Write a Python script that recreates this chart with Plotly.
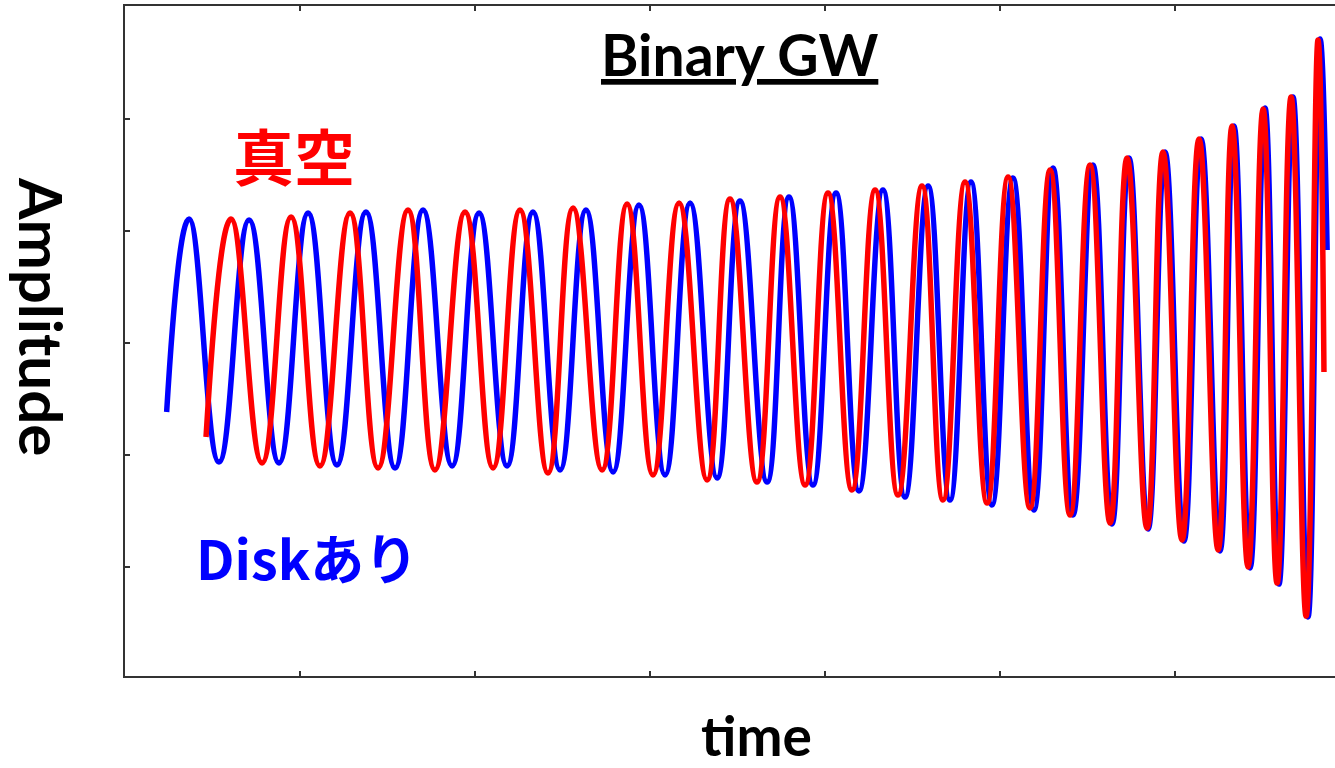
import plotly.graph_objects as go

# Extrema of the two waveforms (time in tick units, amplitude in tick units)
disk_t = [0.238, 0.366, 0.537, 0.709, 0.880, 1.046, 1.211, 1.377, 1.543, 1.703,
          1.869, 2.023, 2.183, 2.331, 2.486, 2.634, 2.789, 2.937, 3.086, 3.229,
          3.383, 3.514, 3.669, 3.794, 3.931, 4.063, 4.194, 4.331, 4.457, 4.589,
          4.714, 4.834, 4.954, 5.074, 5.194, 5.303, 5.417, 5.531, 5.640, 5.737,
          5.846, 5.943, 6.051, 6.149, 6.257, 6.337, 6.429, 6.514, 6.594, 6.674,
          6.760, 6.829, 6.869]
disk_amp = [-0.616, 1.107, -1.063, 1.098, -1.071, 1.161, -1.089, 1.170, -1.116, 1.188,
            -1.098, 1.161, -1.098, 1.170, -1.134, 1.188, -1.152, 1.232, -1.179, 1.250,
            -1.205, 1.268, -1.241, 1.304, -1.268, 1.339, -1.321, 1.366, -1.375, 1.402,
            -1.402, 1.438, -1.446, 1.473, -1.491, 1.563, -1.536, 1.589, -1.616, 1.652,
            -1.661, 1.705, -1.768, 1.821, -1.857, 1.938, -2.009, 2.098, -2.152, 2.196,
            -2.446, 2.714, 0.830]

vac_t = [0.463, 0.606, 0.783, 0.949, 1.114, 1.286, 1.446, 1.617, 1.771, 1.943,
         2.103, 2.257, 2.417, 2.560, 2.726, 2.869, 3.017, 3.166, 3.326, 3.457,
         3.611, 3.743, 3.886, 4.017, 4.154, 4.286, 4.417, 4.554, 4.674, 4.800,
         4.926, 5.046, 5.171, 5.286, 5.400, 5.514, 5.629, 5.726, 5.840, 5.931,
         6.040, 6.137, 6.246, 6.326, 6.417, 6.503, 6.583, 6.663, 6.749, 6.817,
         6.851]
vac_amp = [-0.839, 1.107, -1.071, 1.125, -1.098, 1.161, -1.116, 1.188, -1.134, 1.170,
           -1.116, 1.188, -1.161, 1.205, -1.134, 1.241, -1.179, 1.250, -1.223, 1.286,
           -1.241, 1.304, -1.268, 1.339, -1.313, 1.366, -1.357, 1.402, -1.402, 1.438,
           -1.429, 1.482, -1.473, 1.545, -1.536, 1.589, -1.607, 1.652, -1.652, 1.705,
           -1.759, 1.821, -1.848, 1.938, -2.000, 2.089, -2.143, 2.196, -2.438, 2.705,
           -0.259]

x_ticks = [1, 2, 3, 4, 5, 6]
y_ticks = [-2, -1, 0, 1, 2]

LATIN = "Lato, 'Open Sans', sans-serif"
CJK = "'Noto Sans CJK JP', sans-serif"

fig = go.Figure()
fig.add_trace(go.Scatter(
    x=disk_t, y=disk_amp, mode="lines", name="Diskあり",
    line=dict(color="#0000ff", width=5.5, shape="spline", smoothing=1.3),
))
fig.add_trace(go.Scatter(
    x=vac_t, y=vac_amp, mode="lines", name="真空",
    line=dict(color="#ff0000", width=5.5, shape="spline", smoothing=1.3),
))

axis_common = dict(
    showgrid=False, zeroline=False, showticklabels=False,
    showline=True, linecolor="#333333", linewidth=2,
    ticks="inside", ticklen=5, tickwidth=2, tickcolor="#333333",
)
fig.update_xaxes(range=[0, 6.914], tickvals=x_ticks, mirror="ticks", **axis_common)
fig.update_yaxes(range=[-2.973, 3.009], tickvals=y_ticks, mirror=False, **axis_common)


def label(text, x, y, family, size, color, **extra):
    font = dict(family=family, size=size, color=color)
    font.update(extra.pop("font_extra", {}))
    return dict(text=text, x=x, y=y, xref="paper", yref="paper",
                xanchor="center", yanchor="middle", showarrow=False,
                font=font, **extra)


fig.update_layout(
    width=1335, height=768,
    margin=dict(l=125, r=0, t=6, b=92),
    paper_bgcolor="white", plot_bgcolor="white",
    showlegend=False,
    annotations=[
        label("<b>Binary GW</b>", 0.508, 0.929, LATIN, 57, "black",
              font_extra=dict(lineposition="under")),
        label("<b>真空</b>", 0.1397, 0.778, CJK, 61, "#ff0000"),
        label("<b>Diskあり</b>", 0.150, 0.178, CJK, 54, "#0000ff"),
        label("<b>Amplitude</b>", -0.0686, 0.536, LATIN, 60, "black", textangle=90),
        label("<b>time</b>", 0.522, -0.088, LATIN, 55, "black"),
    ],
)

fig.write_html("out.html")
